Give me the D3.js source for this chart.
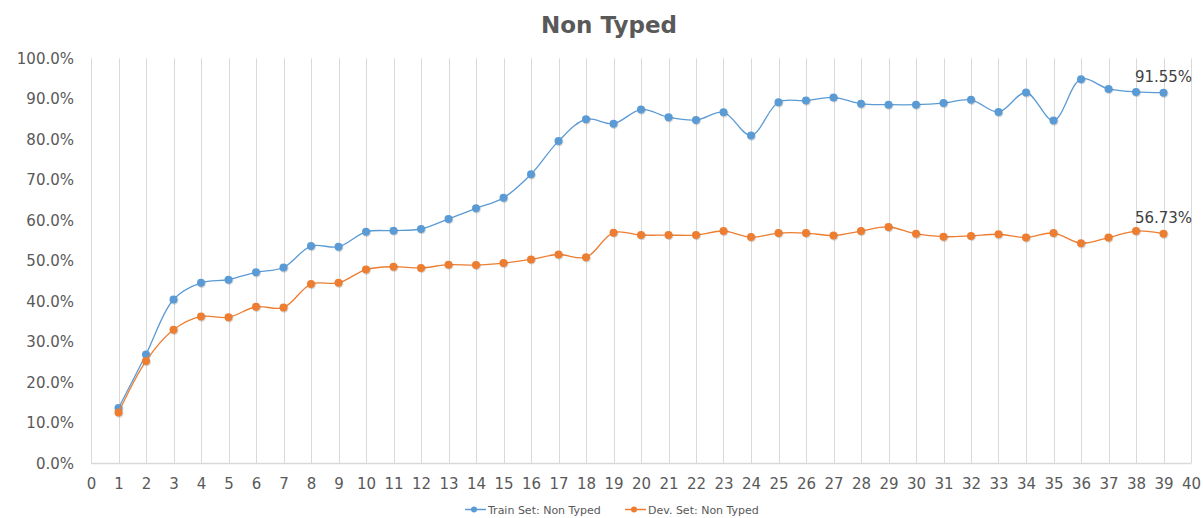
<!DOCTYPE html>
<html>
<head>
<meta charset="utf-8">
<script src="https://cdn.jsdelivr.net/npm/d3@7"></script>
<style>
  body { margin: 0; background: #fff; }
  text { font-family: "DejaVu Sans", Verdana, sans-serif; }
</style>
</head>
<body>
<div class="drawingArea"></div>
<script>
// epochs on the x axis
var epochs = d3.range(1, 40);

// accuracy in percent
var trainValues = [13.7, 26.9, 40.5, 44.6, 45.4, 47.2, 48.4, 53.7, 53.5, 57.2,
    57.5, 57.9, 60.4, 63.0, 65.6, 71.4, 79.6, 85.0, 83.9, 87.4,
    85.5, 84.8, 86.7, 81.0, 89.2, 89.6, 90.4, 88.8, 88.6, 88.6,
    89.0, 89.8, 86.8, 91.6, 84.7, 94.9, 92.5, 91.75, 91.55];
var devValues = [12.6, 25.3, 33.0, 36.3, 36.1, 38.7, 38.5, 44.3, 44.6, 47.9,
    48.6, 48.3, 49.1, 49.0, 49.5, 50.4, 51.6, 50.9, 57.0, 56.4,
    56.4, 56.4, 57.4, 55.9, 56.9, 56.9, 56.3, 57.4, 58.4, 56.7,
    56.0, 56.2, 56.6, 55.8, 56.9, 54.4, 55.8, 57.4, 56.73];

var seriesNames = ["Train Set: Non Typed", "Dev. Set: Non Typed"];
var seriesColors = ["#5B9BD5", "#ED7D31"];
var endLabels = ["91.55%", "56.73%"];

var xTicks = d3.range(0, 41);
var yTicks = d3.range(0, 101, 10);

var width = 1203;
var height = 518;

var svg = d3.select(".drawingArea").append("svg")
    .attr("width", width)
    .attr("height", height);

var x = d3.scaleLinear().domain([0, 40]).range([91, 1191]);
var y = d3.scaleLinear().domain([0, 100]).range([463.5, 58.5]);

// title
svg.append("text")
    .attr("x", 609)
    .attr("y", 33)
    .attr("text-anchor", "middle")
    .attr("font-size", 23)
    .attr("font-weight", "bold")
    .attr("fill", "#595959")
    .text("Non Typed");

// vertical gridlines
svg.append("g")
    .selectAll("line")
    .data(xTicks)
    .enter().append("line")
    .attr("x1", function(d) { return Math.round(x(d)) + 0.5; })
    .attr("x2", function(d) { return Math.round(x(d)) + 0.5; })
    .attr("y1", y(100))
    .attr("y2", y(0))
    .attr("stroke", "#d9d9d9")
    .attr("stroke-width", 1);

// x axis baseline
svg.append("line")
    .attr("x1", x(0))
    .attr("x2", x(40))
    .attr("y1", y(0))
    .attr("y2", y(0))
    .attr("stroke", "#d9d9d9")
    .attr("stroke-width", 1.5);

// axes (labels only)
var xAxis = svg.append("g")
    .attr("transform", "translate(0," + y(0) + ")")
    .call(d3.axisBottom(x).tickValues(xTicks).tickSize(0).tickPadding(15).tickFormat(d3.format("d")));
var yAxis = svg.append("g")
    .attr("transform", "translate(" + (x(0) - 17) + ",0)")
    .call(d3.axisLeft(y).tickValues(yTicks).tickSize(0).tickPadding(0)
        .tickFormat(function(d) { return d.toFixed(1) + "%"; }));

[xAxis, yAxis].forEach(function(a) {
    a.select(".domain").remove();
    a.selectAll("text")
        .attr("font-family", "DejaVu Sans, Verdana, sans-serif")
        .attr("font-size", 15)
        .attr("fill", "#595959");
});

var line = d3.line()
    .x(function(d) { return x(d[0]); })
    .y(function(d) { return y(d[1]); })
    .curve(d3.curveCatmullRom.alpha(0.5));

var allSeries = [trainValues, devValues];

allSeries.forEach(function(values, s) {
    var pts = epochs.map(function(e, i) { return [e, values[i]]; });
    var g = svg.append("g");

    g.append("path")
        .datum(pts)
        .attr("d", line)
        .attr("fill", "none")
        .attr("stroke", seriesColors[s])
        .attr("stroke-width", 1.3);

    // faint shadow under the markers
    g.selectAll("circle.shadow")
        .data(pts)
        .enter().append("circle")
        .attr("class", "shadow")
        .attr("cx", function(d) { return x(d[0]) + 0.8; })
        .attr("cy", function(d) { return y(d[1]) + 1; })
        .attr("r", 4.2)
        .attr("fill", "#000")
        .attr("opacity", 0.15);

    g.selectAll("circle.dot")
        .data(pts)
        .enter().append("circle")
        .attr("class", "dot")
        .attr("cx", function(d) { return x(d[0]); })
        .attr("cy", function(d) { return y(d[1]); })
        .attr("r", 4)
        .attr("fill", seriesColors[s]);

    // label on the last point
    var last = pts[pts.length - 1];
    g.append("text")
        .attr("x", x(last[0]))
        .attr("y", y(last[1]) - 11)
        .attr("text-anchor", "middle")
        .attr("font-size", 15)
        .attr("fill", "#404040")
        .text(endLabels[s]);
});

// legend
var legendX = [465, 625];
seriesNames.forEach(function(name, s) {
    var lg = svg.append("g").attr("transform", "translate(" + legendX[s] + ",509.5)");
    lg.append("line")
        .attr("x1", 0).attr("x2", 21)
        .attr("y1", 0).attr("y2", 0)
        .attr("stroke", seriesColors[s])
        .attr("stroke-width", 1.5);
    lg.append("circle")
        .attr("cx", 9).attr("cy", 0).attr("r", 3)
        .attr("fill", seriesColors[s]);
    lg.append("text")
        .attr("x", 23)
        .attr("y", 4)
        .attr("font-size", 11)
        .attr("fill", "#595959")
        .text(name);
});
</script>
</body>
</html>
